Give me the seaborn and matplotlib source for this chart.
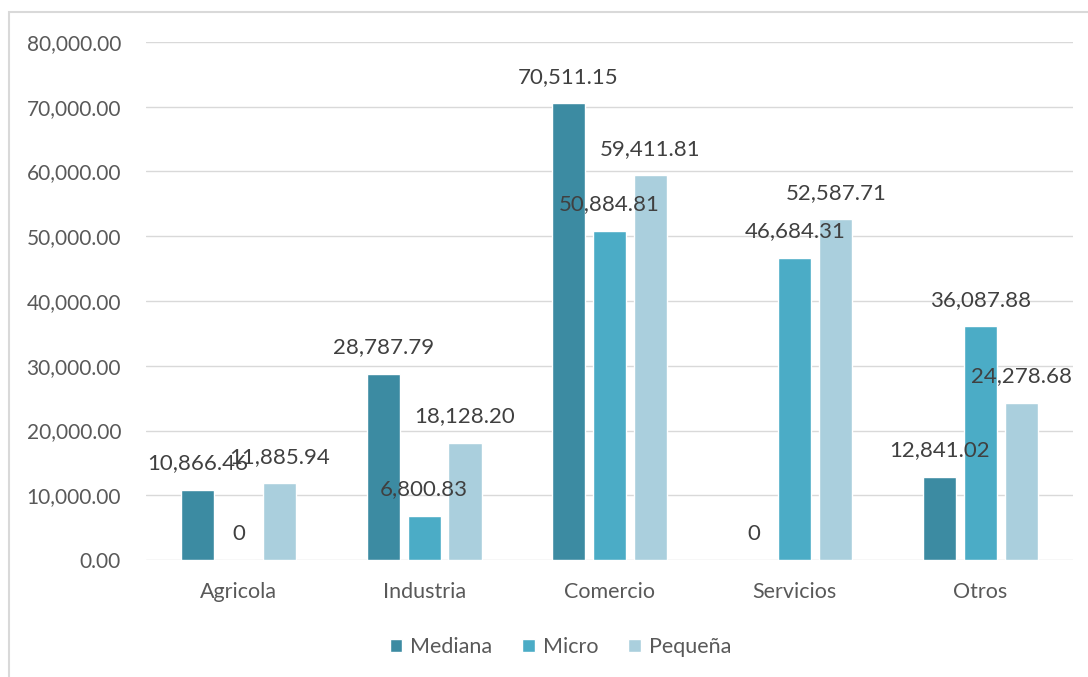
import matplotlib
matplotlib.use("Agg")
import matplotlib.pyplot as plt
import seaborn as sns
import pandas as pd
from matplotlib.patches import Rectangle
from matplotlib.ticker import FuncFormatter

categories = ["Agricola", "Industria", "Comercio", "Servicios", "Otros"]
series_names = ["Mediana", "Micro", "Pequeña"]
mediana = [10866.46, 28787.79, 70511.15, 0, 12841.02]
micro = [0, 6800.83, 50884.81, 46684.31, 36087.88]
pequena = [11885.94, 18128.20, 59411.81, 52587.71, 24278.68]
colors = ["#3C8BA2", "#4BACC6", "#AACFDD"]

rows = []
for name, vals in zip(series_names, [mediana, micro, pequena]):
    for c, v in zip(categories, vals):
        rows.append({"cat": c, "serie": name, "valor": v})
df = pd.DataFrame(rows)

sns.set_theme(style="white")
plt.rcParams["font.family"] = ["Lato", "DejaVu Sans"]

fig = plt.figure(figsize=(10.88, 6.77), dpi=100)
ax = fig.add_axes([0.1342, 0.1728, 0.852, 0.7652])

sns.barplot(data=df, x="cat", y="valor", hue="serie", order=categories,
            hue_order=series_names, palette=colors, width=0.663, gap=0.19,
            saturation=1, ax=ax, legend=True, errorbar=None)

ax.set_ylim(0, 80000)
ax.set_xlim(-0.5, 4.5)
ax.set_yticks(range(0, 80001, 10000))
ax.yaxis.set_major_formatter(FuncFormatter(lambda v, p: f"{v:,.2f}"))
ax.grid(axis="y", color="#D9D9D9", linewidth=1)
ax.set_axisbelow(True)
for s in ax.spines.values():
    s.set_visible(False)
ax.tick_params(axis="both", length=0, colors="#595959")
ax.tick_params(axis="y", pad=18, labelsize=15)
ax.tick_params(axis="x", pad=16, labelsize=15.5)
ax.set_xlabel("")
ax.set_ylabel("")

for cont in ax.containers:
    for bar in cont:
        h = bar.get_height()
        txt = "0" if h == 0 else f"{h:,.2f}"
        ax.annotate(txt, (bar.get_x() + bar.get_width() / 2, h),
                    xytext=(0, 19), textcoords="offset points",
                    ha="center", va="center", fontsize=16, color="#404040")

leg = ax.legend(loc="center", bbox_to_anchor=(0.447, -0.168), ncol=3, frameon=False,
                fontsize=15.5, handlelength=0.6, handleheight=0.6, handletextpad=0.35,
                columnspacing=1.4)
for t in leg.get_texts():
    t.set_color("#595959")

fig.patches.append(Rectangle((9 / 1088, -0.1), 1.2, 1 - 12 / 677 + 0.1,
                             transform=fig.transFigure, fill=False,
                             edgecolor="#D9D9D9", linewidth=1.5))

fig.savefig("out.png", dpi=100)
